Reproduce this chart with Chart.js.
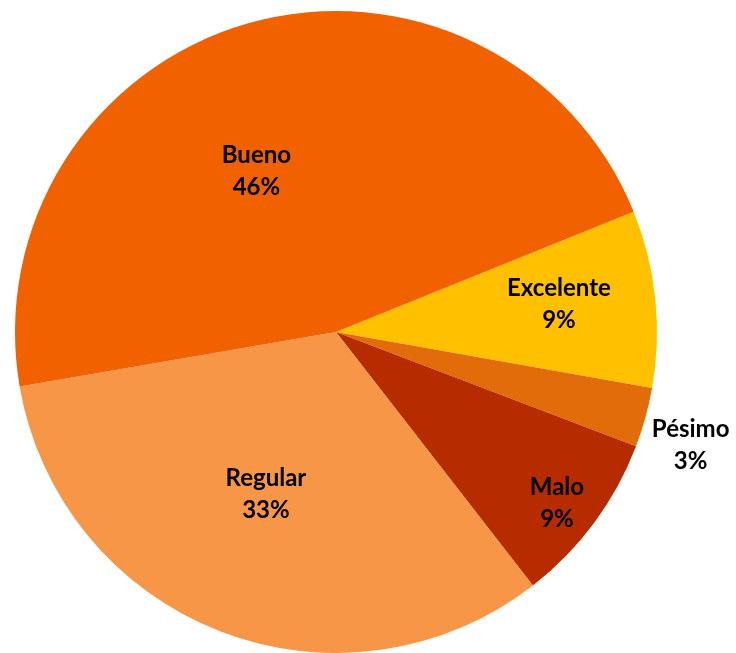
<!DOCTYPE html>
<html>
<head>
<meta charset="utf-8">
<script src="https://cdn.jsdelivr.net/npm/chart.js@4/dist/chart.umd.min.js"></script>
<style>
  html, body { margin: 0; padding: 0; background: #fff; }
  #wrap { width: 736px; height: 653px; }
</style>
</head>
<body>
<div id="wrap"><canvas id="pieChart" width="736" height="653"></canvas></div>
<script>
// Categorías en el orden en que aparecen (sentido horario)
const categorias = ['Excelente', 'Pésimo', 'Malo', 'Regular', 'Bueno'];
const porcentajes = [8.9, 3.0, 8.7, 32.8, 46.6];
const etiquetas = ['9%', '3%', '9%', '33%', '46%'];
const colores = ['#FFC000', '#E36C0A', '#B72B00', '#F79646', '#F26100'];

// Posición de las etiquetas: fracción del radio y ajuste de ángulo (grados)
const etiquetaRadio = [0.70, 1.16, 0.87, 0.55, 0.56];
const etiquetaAngulo = [-1.2, 2.3, 1.2, 2.2, -10.4];

const etiquetasPlugin = {
    id: 'etiquetas',
    afterDatasetsDraw(chart) {
        const ctx = chart.ctx;
        const meta = chart.getDatasetMeta(0);
        ctx.save();
        ctx.font = 'bold 24px Lato';
        ctx.fillStyle = '#000';
        ctx.textAlign = 'center';
        ctx.textBaseline = 'middle';
        meta.data.forEach((arc, i) => {
            const mid = (arc.startAngle + arc.endAngle) / 2 + etiquetaAngulo[i] * Math.PI / 180;
            const r = arc.outerRadius * etiquetaRadio[i];
            const x = arc.x + Math.cos(mid) * r;
            const y = arc.y + Math.sin(mid) * r;
            ctx.fillText(categorias[i], x, y - 16);
            ctx.fillText(etiquetas[i], x, y + 16);
        });
        ctx.restore();
    }
};

new Chart(document.getElementById('pieChart'), {
    type: 'pie',
    data: {
        labels: categorias,
        datasets: [{
            data: porcentajes,
            backgroundColor: colores,
            borderWidth: 0
        }]
    },
    options: {
        responsive: false,
        animation: false,
        rotation: 68,
        layout: { padding: { left: 14, right: 78, top: 11, bottom: 0 } },
        plugins: {
            legend: { display: false },
            tooltip: { enabled: false }
        }
    },
    plugins: [etiquetasPlugin]
});
</script>
</body>
</html>
